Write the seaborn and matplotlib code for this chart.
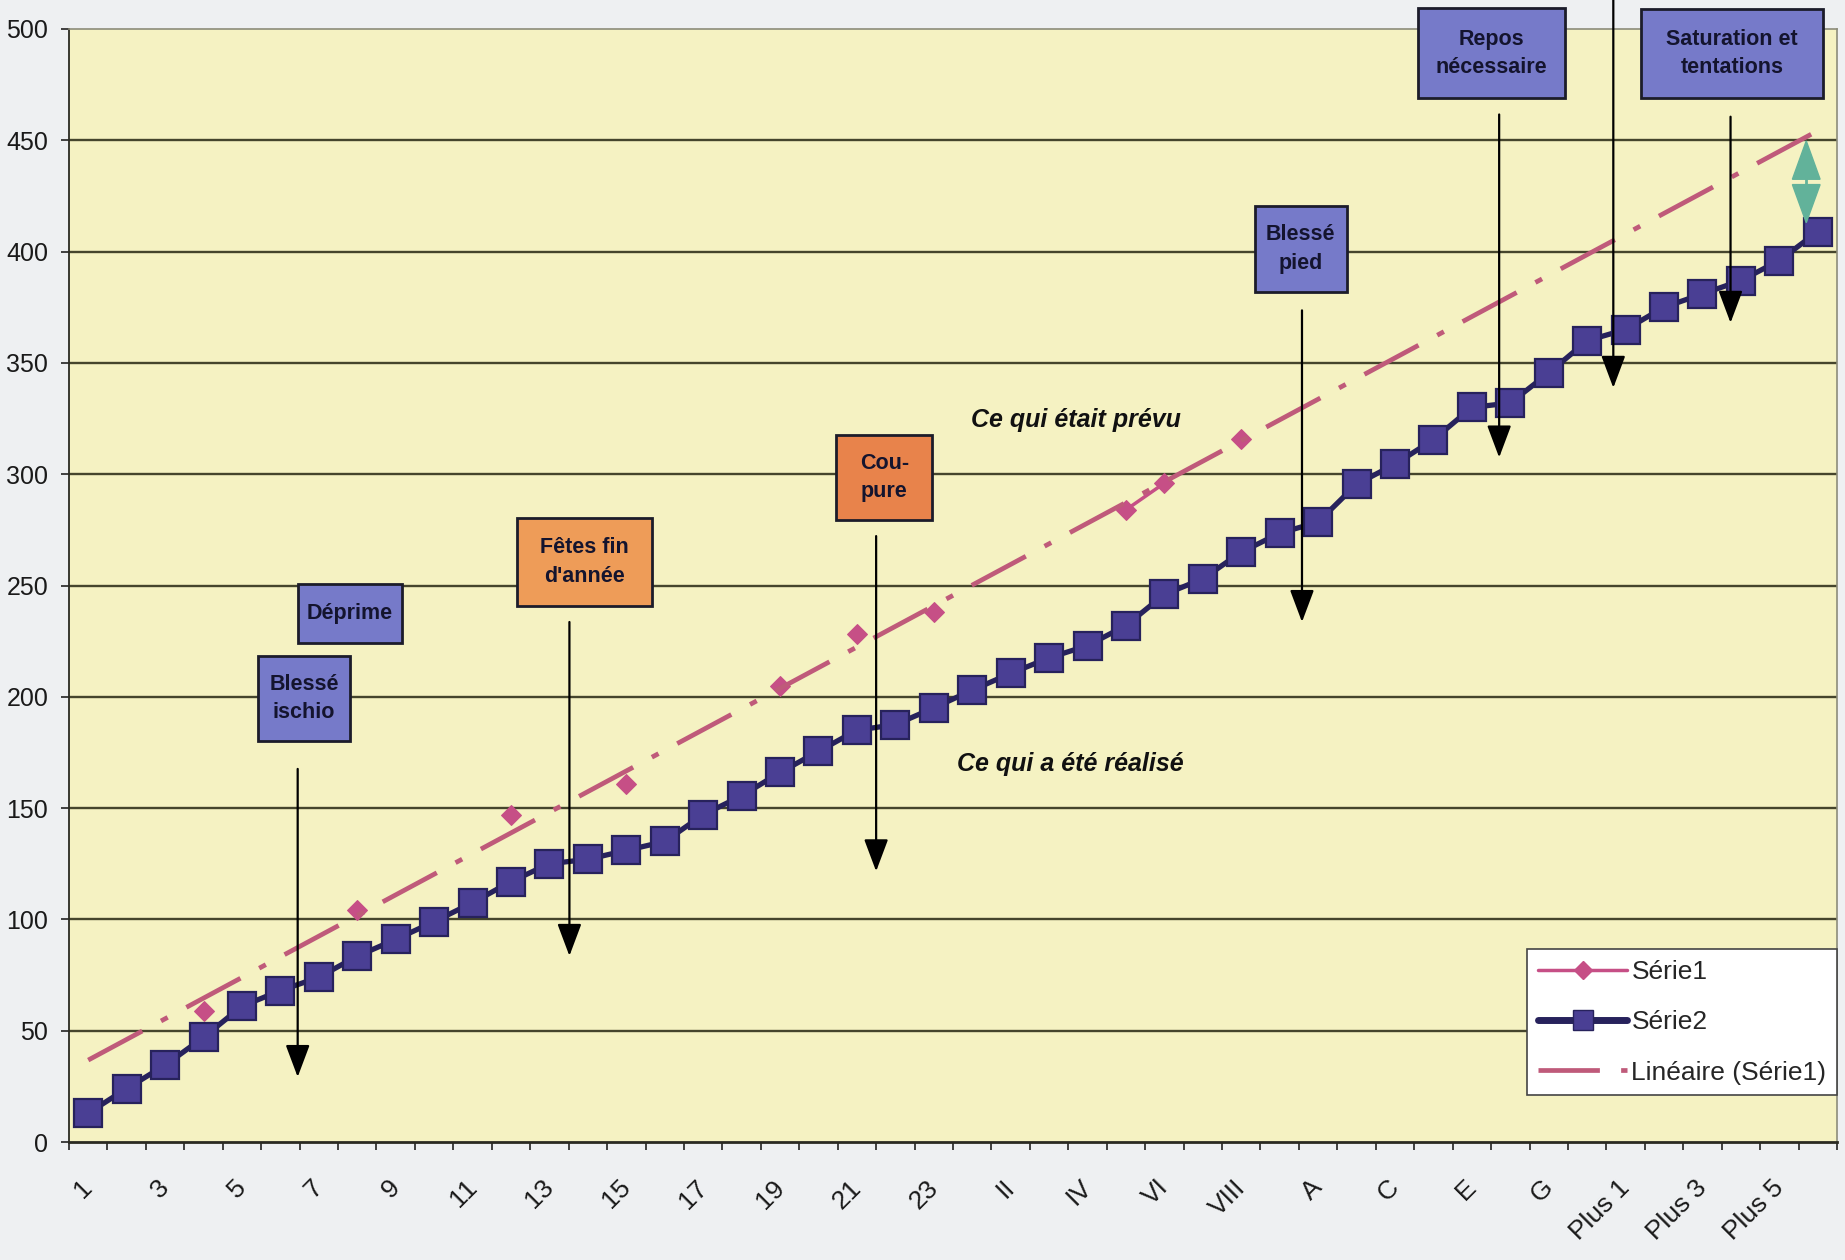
import numpy as np
import pandas as pd
import matplotlib
matplotlib.use("Agg")
import matplotlib.pyplot as plt
import seaborn as sns
from matplotlib.lines import Line2D
from matplotlib.patches import Rectangle, Polygon
from matplotlib.transforms import ScaledTranslation

# ---------------------------------------------------------------- data
categories = [
    "1", "2", "3", "4", "5", "6", "7", "8", "9", "10", "11", "12", "13",
    "14", "15", "16", "17", "18", "19", "20", "21", "22", "23",
    "I", "II", "III", "IV", "V", "VI", "VII", "VIII", "IX",
    "A", "B", "C", "D", "E", "F", "G", "H",
    "Plus 1", "Plus 2", "Plus 3", "Plus 4", "Plus 5", "Plus 6",
]

nan = np.nan
# planned values (only some weeks were entered)
serie1 = [
    nan, nan, nan, 59, nan, nan, nan, 104, nan, nan, nan, 147, nan, nan,
    161, nan, nan, nan, 205, nan, 228, nan, 238, nan, nan, nan, nan, 284,
    296, nan, 316, nan, nan, nan, nan, nan, nan, nan, nan, nan, nan, nan,
    nan, nan, nan, nan,
]

# achieved values
serie2 = [
    13, 24, 34.5, 47, 61, 68, 74, 83.5, 91, 99,
    107.5, 117, 125, 127, 131, 135, 147, 155.5, 166, 175.5,
    185, 187.5, 195, 203, 210.5, 217.5, 223, 232, 246, 253,
    265, 273.5, 278.5, 295.5, 304.5, 315.5, 330, 332, 345.5, 360,
    365, 375, 381, 387, 396, 409,
]

y_ticks = [0, 50, 100, 150, 200, 250, 300, 350, 400, 450, 500]

# ---------------------------------------------------------------- style
sns.set_theme(style="white")
plt.rcParams["font.family"] = ["Liberation Sans", "DejaVu Sans"]

BG_FIG = "#eef0f2"
BG_AX = "#f5f2c2"
GRID = "#45452c"
NAVY = "#27225c"
PURPLE = "#4a3f94"
PINK = "#c64f86"
TREND = "#bf5a7a"
BLUE_BOX = "#767ac9"
ORANGE_BOX = "#ee9c58"
ORANGE_BOX2 = "#e8834b"
GREEN = "#62b29a"
TXT = "#1a1a1a"

fig = plt.figure(figsize=(18.45, 12.6), dpi=100, facecolor=BG_FIG)
ax = fig.add_axes([69 / 1845, 118 / 1260, 1768 / 1845, 1113 / 1260])
ax.set_facecolor(BG_AX)

pos = np.arange(len(categories))
df = pd.DataFrame({"pos": pos, "cat": categories,
                   "serie1": serie1, "serie2": serie2})

# horizontal grid
for yv in y_ticks[1:-1]:
    ax.axhline(yv, color=GRID, lw=1.7, zorder=1)

# achieved series
sns.lineplot(data=df, x="pos", y="serie2", ax=ax, color=NAVY, lw=3.8,
             marker="s", markersize=20.5, markerfacecolor=PURPLE,
             markeredgecolor=NAVY, markeredgewidth=1.6, zorder=4)

# planned series: broken wherever a week has no value
d1 = df.dropna(subset=["serie1"]).copy()
d1["segment"] = (d1["pos"].diff() != 1).cumsum()
sns.lineplot(data=d1, x="pos", y="serie1", units="segment", estimator=None,
             ax=ax, color=PINK, lw=2.5, marker="D", markersize=10,
             markerfacecolor=PINK, markeredgecolor=PINK, zorder=5)

# linear trend of the planned series
slope, intercept = np.polyfit(d1["pos"], d1["serie1"], 1)
trend_x = np.array([pos[0], pos[-1]])
sns.lineplot(x=trend_x, y=intercept + slope * trend_x, ax=ax, color=TREND,
             lw=3.4, zorder=6)
ax.lines[-1].set_dashes([13, 4.5, 1.6, 4.5])

# ---------------------------------------------------------------- axes
ax.set_xlim(-0.5, len(categories) - 0.5)
ax.set_ylim(0, 500)
ax.set_xlabel("")
ax.set_ylabel("")

ax.set_yticks(y_ticks)
ax.set_yticklabels([str(v) for v in y_ticks], fontsize=18, color=TXT)
ax.tick_params(axis="y", which="major", direction="out", length=6,
               width=1.2, color="#222222", pad=9, left=True)

ax.set_xticks(pos[::2])
ax.set_xticklabels(categories[::2], fontsize=19, color=TXT, rotation=45,
                   ha="right", va="top", rotation_mode="anchor")
ax.set_xticks(np.arange(-0.5, len(categories), 1), minor=True)
ax.tick_params(axis="x", which="major", length=0, pad=24, bottom=True)
ax.tick_params(axis="x", which="minor", direction="out", length=6,
               width=1.2, color="#222222", bottom=True)
shift = ScaledTranslation(-8 / 100, 0, fig.dpi_scale_trans)
for lab in ax.get_xticklabels():
    lab.set_transform(lab.get_transform() + shift)

for side in ("left", "bottom"):
    ax.spines[side].set_color("#2a2a22")
ax.spines["left"].set_linewidth(1.3)
ax.spines["bottom"].set_linewidth(2.0)
for side in ("top", "right"):
    ax.spines[side].set_color("#8c8c7a")
    ax.spines[side].set_linewidth(1.2)

# ---------------------------------------------------------------- notes
boxes = [
    ("Blessé\nischio", 4.42, 6.81, 180, 218.5, BLUE_BOX),
    ("Déprime", 5.46, 8.16, 224.3, 250.8, BLUE_BOX),
    ("Fêtes fin\nd'année", 11.15, 14.66, 240.8, 280.3, ORANGE_BOX),
    ("Cou-\npure", 19.46, 21.96, 279.3, 317.7, ORANGE_BOX2),
    ("Blessé\npied", 30.36, 32.74, 381.9, 420.5, BLUE_BOX),
    ("Repos\nnécessaire", 34.6, 38.43, 468.9, 509.3, BLUE_BOX),
    ("Saturation et\ntentations", 40.41, 45.14, 468.9, 508.9, BLUE_BOX),
]
for text, x0, x1, y0, y1, fc in boxes:
    ax.add_patch(Rectangle((x0, y0), x1 - x0, y1 - y0, facecolor=fc,
                           edgecolor="#1c1c2a", lw=2.0, zorder=8,
                           clip_on=False))
    ax.text((x0 + x1) / 2, (y0 + y1) / 2, text, ha="center", va="center",
            fontsize=15.5, fontweight="bold", color="#14142e",
            linespacing=1.45, zorder=9, clip_on=False)

arrows = [
    (5.45, 167.6, 29.2),
    (12.52, 233.6, 83.6),
    (20.5, 272.2, 121.6),
    (31.58, 373.6, 233.6),
    (36.71, 461.6, 307.5),
    (39.68, 530.0, 338.8),
    (42.73, 460.6, 368.0),
]
for x, y_from, y_to in arrows:
    ax.annotate("", xy=(x, y_to), xytext=(x, y_from),
                arrowprops=dict(arrowstyle="-|>,head_length=0.8,head_width=0.3",
                                mutation_scale=25, lw=1.6, color="black",
                                shrinkA=0, shrinkB=0),
                zorder=7, annotation_clip=False)

# gap between plan and achievement at the end
gx, g_top, g_bot, g_mid = 44.7, 449.7, 413.0, 431.3
half_w = 0.36
ax.add_patch(Polygon([(gx, g_top), (gx - half_w, g_mid + 1.2),
                      (gx + half_w, g_mid + 1.2)], closed=True,
                     facecolor=GREEN, edgecolor=GREEN, lw=1, zorder=7))
ax.add_patch(Polygon([(gx, g_bot), (gx - half_w, g_mid - 1.2),
                      (gx + half_w, g_mid - 1.2)], closed=True,
                     facecolor=GREEN, edgecolor=GREEN, lw=1, zorder=7))
ax.plot([gx, gx], [g_mid - 1.5, g_mid + 1.5], color=GREEN, lw=2, zorder=7)

ax.text(25.69, 324.4, "Ce qui était prévu", ha="center", va="center",
        fontsize=18, fontweight="bold", fontstyle="italic", color="#111111",
        zorder=9)
ax.text(25.56, 169.6, "Ce qui a été réalisé", ha="center", va="center",
        fontsize=18, fontweight="bold", fontstyle="italic", color="#111111",
        zorder=9)

# ---------------------------------------------------------------- legend
handles = [
    Line2D([], [], color=PINK, lw=2.5, marker="D", markersize=9,
           markerfacecolor=PINK, markeredgecolor=PINK),
    Line2D([], [], color=NAVY, lw=5, marker="s", markersize=14,
           markerfacecolor=PURPLE, markeredgecolor=NAVY),
    Line2D([], [], color=TREND, lw=3.4, dashes=[13, 4.5, 1.6, 4.5]),
]
leg = ax.legend(handles, ["Série1", "Série2", "Linéaire (Série1)"],
                loc="lower right", bbox_to_anchor=(1.0, 0.042),
                fontsize=19, frameon=True, fancybox=False, framealpha=1,
                handlelength=3.4, handletextpad=0.15, labelspacing=1.0,
                borderpad=0.4, borderaxespad=0.0)
leg.get_frame().set_facecolor("white")
leg.get_frame().set_edgecolor("#444444")
leg.get_frame().set_linewidth(1.2)
leg.set_zorder(10)

fig.savefig("out.png", dpi=100, facecolor=BG_FIG)
